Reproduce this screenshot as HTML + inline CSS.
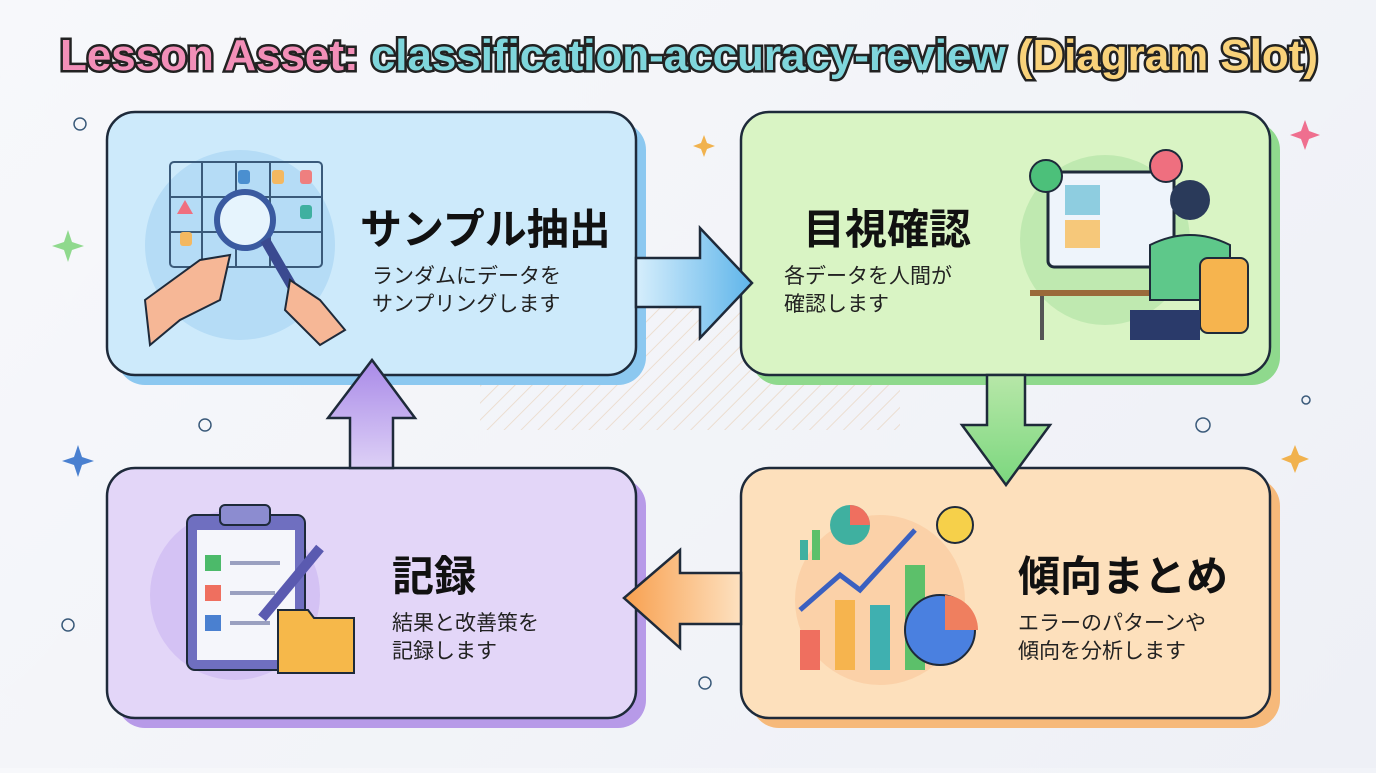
<!DOCTYPE html>
<html><head><meta charset="utf-8"><style>
body{margin:0;width:1376px;height:768px;overflow:hidden;background:linear-gradient(135deg,#f7f8fb,#eef0f6);font-family:"Liberation Sans","Noto Sans CJK JP",sans-serif}
</style></head><body>
<svg width="1376" height="768" viewBox="0 0 1376 768" xmlns="http://www.w3.org/2000/svg">
<defs>
<linearGradient id="ga" x1="0" x2="1"><stop offset="0" stop-color="#d6eefc"/><stop offset="1" stop-color="#5fb5ea"/></linearGradient>
<linearGradient id="gd" x1="0" y1="0" x2="0" y2="1"><stop offset="0" stop-color="#b7e7a8"/><stop offset="1" stop-color="#7bd77e"/></linearGradient>
<linearGradient id="gl" x1="1" x2="0"><stop offset="0" stop-color="#fde1c0"/><stop offset="1" stop-color="#f8a04f"/></linearGradient>
<linearGradient id="gu" x1="0" y1="1" x2="0" y2="0"><stop offset="0" stop-color="#ddd0f6"/><stop offset="1" stop-color="#a98ae8"/></linearGradient>
<pattern id="hat" width="12" height="12" patternUnits="userSpaceOnUse" patternTransform="rotate(45)"><line x1="0" y1="0" x2="0" y2="12" stroke="#e8cfb6" stroke-width="2"/></pattern>
</defs>
<rect x="480" y="300" width="420" height="130" fill="url(#hat)" opacity="0.6"/>
<text x="60" y="70" textLength="1258" lengthAdjust="spacingAndGlyphs" font-size="44" font-weight="bold" stroke="#222" stroke-width="5" paint-order="stroke" font-family="Liberation Sans Narrow, Liberation Sans, sans-serif"><tspan fill="#f28fb8">Lesson Asset: </tspan><tspan fill="#7fd6dc">classification-accuracy-review </tspan><tspan fill="#f9d27a">(Diagram Slot)</tspan></text>

<rect x="117" y="122" width="529" height="263" rx="28" fill="#8cc8f0"/>
<rect x="107" y="112" width="529" height="263" rx="28" fill="#cdeafb" stroke="#1e2a3a" stroke-width="2.5"/>
<rect x="751" y="122" width="529" height="263" rx="28" fill="#8fd98d"/>
<rect x="741" y="112" width="529" height="263" rx="28" fill="#d9f4c4" stroke="#1e2a3a" stroke-width="2.5"/>
<rect x="117" y="478" width="529" height="250" rx="28" fill="#b79ae8"/>
<rect x="107" y="468" width="529" height="250" rx="28" fill="#e3d6f8" stroke="#1e2a3a" stroke-width="2.5"/>
<rect x="751" y="478" width="529" height="250" rx="28" fill="#f6b97a"/>
<rect x="741" y="468" width="529" height="250" rx="28" fill="#fde0bc" stroke="#1e2a3a" stroke-width="2.5"/>

<path d="M636 258 H700 V228 L752 283 L700 338 V307 H636 Z" fill="url(#ga)" stroke="#1e2a3a" stroke-width="2.5"/>
<path d="M987 375 V425 H962 L1006 485 L1050 425 H1025 V375 Z" fill="url(#gd)" stroke="#1e2a3a" stroke-width="2.5"/>
<path d="M741 573 H680 V550 L624 598 L680 648 V624 H741 Z" fill="url(#gl)" stroke="#1e2a3a" stroke-width="2.5"/>
<path d="M350 468 V418 H328 L372 360 L415 418 H393 V468 Z" fill="url(#gu)" stroke="#1e2a3a" stroke-width="2.5"/>

<circle cx="240" cy="245" r="95" fill="#b5dcf6"/>
<g stroke="#3a5a7a" stroke-width="2" fill="none"><rect x="170" y="162" width="152" height="105" rx="4"/><line x1="170" y1="197" x2="322" y2="197"/><line x1="170" y1="232" x2="322" y2="232"/><line x1="202" y1="162" x2="202" y2="267"/><line x1="236" y1="162" x2="236" y2="267"/><line x1="270" y1="162" x2="270" y2="267"/></g>
<rect x="238" y="170" width="12" height="14" rx="3" fill="#4a8fd0"/><rect x="272" y="170" width="12" height="14" rx="3" fill="#f4b860"/><rect x="300" y="170" width="12" height="14" rx="3" fill="#ef7f7f"/><rect x="300" y="205" width="12" height="14" rx="3" fill="#3fb0a0"/><rect x="180" y="232" width="12" height="14" rx="3" fill="#f4b860"/><polygon points="185,200 193,214 177,214" fill="#ef6f7f"/>
<circle cx="245" cy="220" r="28" fill="#e6f4fd" stroke="#3a5aa0" stroke-width="6"/><line x1="265" y1="240" x2="300" y2="300" stroke="#3a4a90" stroke-width="10"/>
<path d="M145 300 L200 260 L230 255 L220 300 L180 320 L150 345 Z" fill="#f6b796" stroke="#1e2a3a" stroke-width="2"/>
<path d="M290 280 L320 300 L345 330 L320 345 L285 310 Z" fill="#f6b796" stroke="#1e2a3a" stroke-width="2"/>
<text x="360" y="244" font-size="42" font-weight="bold" fill="#111">サンプル抽出</text>
<text x="372" y="283" font-size="21" fill="#222">ランダムにデータを</text>
<text x="372" y="311" font-size="21" fill="#222">サンプリングします</text>

<circle cx="1105" cy="240" r="85" fill="#bfe9b0"/>
<rect x="1048" y="172" width="126" height="95" rx="6" fill="#eef4fb" stroke="#1e2a3a" stroke-width="3"/>
<rect x="1065" y="185" width="35" height="30" fill="#8ecde0"/><rect x="1065" y="220" width="35" height="28" fill="#f6c87a"/>
<rect x="1030" y="290" width="170" height="6" fill="#9a6a3a"/><line x1="1042" y1="296" x2="1042" y2="340" stroke="#555" stroke-width="4"/>
<circle cx="1190" cy="200" r="20" fill="#2a3a5a"/><path d="M1150 245 Q1190 225 1230 245 L1230 300 L1150 300 Z" fill="#5ec88a" stroke="#1e2a3a" stroke-width="2"/>
<rect x="1200" y="258" width="48" height="75" rx="8" fill="#f6b44e" stroke="#1e2a3a" stroke-width="2"/>
<path d="M1130 310 H1200 V340 H1130 Z" fill="#2a3a6a"/>
<circle cx="1046" cy="176" r="16" fill="#4cc07a" stroke="#1e2a3a" stroke-width="2"/><circle cx="1166" cy="166" r="16" fill="#ef6f7f" stroke="#1e2a3a" stroke-width="2"/>
<text x="803" y="244" font-size="42" font-weight="bold" fill="#111">目視確認</text>
<text x="784" y="283" font-size="21" fill="#222">各データを人間が</text>
<text x="784" y="311" font-size="21" fill="#222">確認します</text>

<circle cx="235" cy="595" r="85" fill="#d4c2f4"/>
<rect x="187" y="515" width="118" height="155" rx="8" fill="#6f6fc0" stroke="#1e2a3a" stroke-width="2"/>
<rect x="197" y="530" width="98" height="130" fill="#f5f6fb"/>
<rect x="220" y="505" width="50" height="20" rx="5" fill="#8c8cd0" stroke="#1e2a3a" stroke-width="2"/>
<rect x="205" y="555" width="16" height="16" fill="#4cba6a"/><rect x="205" y="585" width="16" height="16" fill="#ef6f5f"/><rect x="205" y="615" width="16" height="16" fill="#4a80d0"/>
<g stroke="#9aa0c0" stroke-width="4"><line x1="230" y1="563" x2="280" y2="563"/><line x1="230" y1="593" x2="275" y2="593"/><line x1="230" y1="623" x2="270" y2="623"/></g>
<path d="M278 610 h30 l6 8 h40 v55 h-76 Z" fill="#f6b84a" stroke="#1e2a3a" stroke-width="2"/>
<line x1="320" y1="548" x2="262" y2="618" stroke="#5a5ab0" stroke-width="10"/>
<text x="392" y="591" font-size="42" font-weight="bold" fill="#111">記録</text>
<text x="392" y="630" font-size="21" fill="#222">結果と改善策を</text>
<text x="392" y="658" font-size="21" fill="#222">記録します</text>

<circle cx="880" cy="600" r="85" fill="#fbd1a8"/>
<rect x="800" y="630" width="20" height="40" fill="#ef6f5f"/><rect x="835" y="600" width="20" height="70" fill="#f6b44e"/><rect x="870" y="605" width="20" height="65" fill="#3fb0b0"/><rect x="905" y="565" width="20" height="105" fill="#5cc06a"/>
<polyline points="800,610 840,575 860,590 915,530" fill="none" stroke="#3a60c0" stroke-width="5"/>
<circle cx="940" cy="630" r="35" fill="#4a80e0" stroke="#1e2a3a" stroke-width="2"/><path d="M945 595 a35 35 0 0 1 33 35 h-33Z" fill="#ef7f5f"/>
<circle cx="850" cy="525" r="20" fill="#3fb0a0"/><path d="M850 505 a20 20 0 0 1 20 20 h-20Z" fill="#ef6f5f"/>
<circle cx="955" cy="525" r="18" fill="#f6d04a" stroke="#1e2a3a" stroke-width="2"/>
<rect x="800" y="540" width="8" height="20" fill="#3fb0a0"/><rect x="812" y="530" width="8" height="30" fill="#5cc06a"/>
<text x="1018" y="591" font-size="42" font-weight="bold" fill="#111">傾向まとめ</text>
<text x="1018" y="630" font-size="21" fill="#222">エラーのパターンや</text>
<text x="1018" y="658" font-size="21" fill="#222">傾向を分析します</text>

<g fill="none" stroke="#3a5a7a" stroke-width="1.5">
<circle cx="80" cy="124" r="6"/><circle cx="205" cy="425" r="6"/><circle cx="1203" cy="425" r="7"/><circle cx="705" cy="683" r="6"/><circle cx="68" cy="625" r="6"/><circle cx="1306" cy="400" r="4"/></g>
<g fill="#f1b24e"><path d="M704 135 l3 8 8 3 -8 3 -3 8 -3 -8 -8 -3 8 -3z"/><path d="M1295 445 l4 10 10 4 -10 4 -4 10 -4 -10 -10 -4 10 -4z"/></g>
<g fill="#8fd98d"><path d="M68 230 l4 12 12 4 -12 4 -4 12 -4 -12 -12 -4 12 -4z"/></g>
<g fill="#ef6f8f"><path d="M1305 120 l4 11 11 4 -11 4 -4 11 -4 -11 -11 -4 11 -4z"/></g>
<g fill="#4a80d0"><path d="M78 445 l4 12 12 4 -12 4 -4 12 -4 -12 -12 -4 12 -4z"/></g>
</svg>
</body></html>
